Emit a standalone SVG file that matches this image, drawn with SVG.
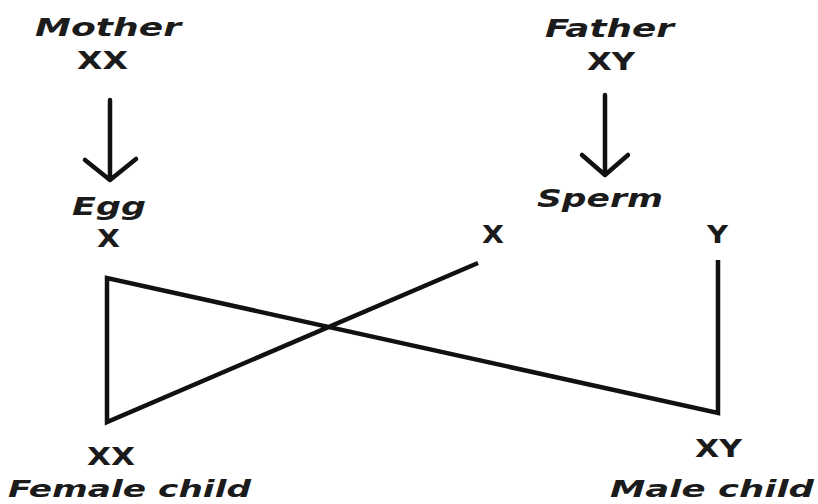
<svg xmlns="http://www.w3.org/2000/svg" width="818" height="504" viewBox="0 0 818 504">
  <defs>
    <style>
      .name { font-family: "DejaVu Sans", Verdana, sans-serif; font-weight: bold; font-style: italic; fill: #1b1b1b; }
      .geno { font-family: "DejaVu Sans", Verdana, sans-serif; font-weight: bold; fill: #1b1b1b; }
      .line { stroke: #111; stroke-width: 4.5; fill: none; stroke-linejoin: miter; stroke-linecap: butt; }
      .arrow { stroke: #111; stroke-width: 4.5; fill: none; stroke-linecap: round; stroke-linejoin: round; }
    </style>
  </defs>
  <rect width="818" height="504" fill="#ffffff"/>

  <!-- Parents -->
  <g id="mother">
    <text class="name" x="35" y="36" font-size="25" textLength="146" lengthAdjust="spacingAndGlyphs">Mother</text>
    <text class="geno" x="77" y="69" font-size="24" textLength="51" lengthAdjust="spacingAndGlyphs">XX</text>
  </g>
  <g id="father">
    <text class="name" x="545" y="37" font-size="25" textLength="129" lengthAdjust="spacingAndGlyphs">Father</text>
    <text class="geno" x="587" y="70" font-size="24" textLength="48" lengthAdjust="spacingAndGlyphs">XY</text>
  </g>

  <!-- Gametes -->
  <g id="egg">
    <text class="name" x="72" y="215" font-size="25" textLength="74" lengthAdjust="spacingAndGlyphs">Egg</text>
    <text class="geno" x="97" y="247" font-size="24" textLength="23" lengthAdjust="spacingAndGlyphs">X</text>
  </g>
  <g id="sperm">
    <text class="name" x="537" y="207" font-size="25" textLength="126" lengthAdjust="spacingAndGlyphs">Sperm</text>
  </g>
  <g id="sperm-x">
    <text class="geno" x="482" y="243" font-size="24" textLength="22" lengthAdjust="spacingAndGlyphs">X</text>
  </g>
  <g id="sperm-y">
    <text class="geno" x="707" y="243" font-size="24" textLength="21" lengthAdjust="spacingAndGlyphs">Y</text>
  </g>

  <!-- Offspring -->
  <g id="female-child">
    <text class="geno" x="87" y="465" font-size="24" textLength="48" lengthAdjust="spacingAndGlyphs">XX</text>
    <text class="name" x="8" y="497" font-size="23" textLength="243" lengthAdjust="spacingAndGlyphs">Female child</text>
  </g>
  <g id="male-child">
    <text class="geno" x="695" y="457" font-size="24" textLength="47" lengthAdjust="spacingAndGlyphs">XY</text>
    <text class="name" x="610" y="497" font-size="23" textLength="204" lengthAdjust="spacingAndGlyphs">Male child</text>
  </g>

  <!-- Connectors -->
  <g id="connectors">
    <!-- parent to gamete arrows -->
    <path class="arrow" d="M110 100 V180 M85 160 L110 180 L136 159"/>
    <path class="arrow" d="M605 95 V175 M582 155 L605 175 L628 155"/>
    <!-- crossing lines -->
    <path class="line" d="M478 263 L107 422 L107 278 L718 413 L718 260"/>
  </g>
</svg>
